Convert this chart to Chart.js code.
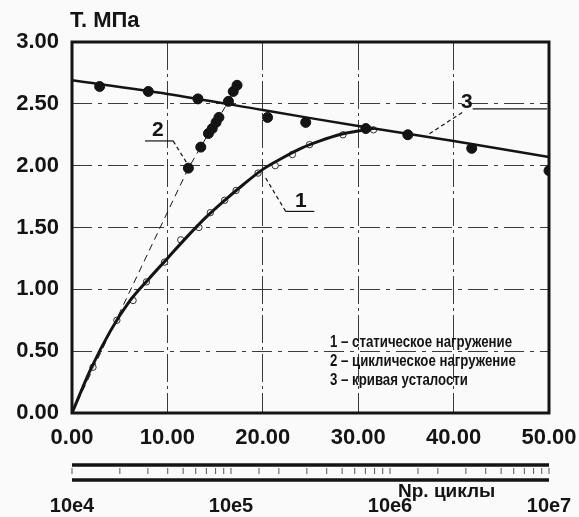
<!DOCTYPE html>
<html>
<head>
<meta charset="utf-8">
<script src="https://cdn.jsdelivr.net/npm/chart.js@4.4.0/dist/chart.umd.min.js"></script>
<style>
  body { margin: 0; background: #fafafa; }
</style>
</head>
<body>
<canvas id="fatigue" width="579" height="517"></canvas>
<script>
// curve 1 - static loading (solid line + open circles)
var staticLineX = [0, 2, 4, 6, 8, 10, 12, 14, 16, 18, 20, 22, 24, 26, 28, 30, 31.6];
var staticLineY = [0, 0.36, 0.66, 0.90, 1.08, 1.25, 1.42, 1.58, 1.72, 1.85, 1.97, 2.06, 2.14, 2.20, 2.25, 2.28, 2.30];
var staticPtsX = [2.2, 4.7, 6.4, 7.8, 9.7, 11.4, 13.3, 14.5, 16.0, 17.2, 19.5, 21.3, 23.1, 24.9, 28.4, 31.6];
var staticPtsY = [0.37, 0.75, 0.91, 1.06, 1.22, 1.40, 1.50, 1.62, 1.72, 1.80, 1.94, 2.00, 2.09, 2.17, 2.25, 2.29];

// curve 2 - cyclic loading (dashed line + filled dots)
var cyclicX = [0, 12.2, 13.5, 14.3, 14.7, 15.1, 15.4, 16.4, 16.9, 17.3];
var cyclicY = [0, 1.98, 2.15, 2.26, 2.30, 2.35, 2.39, 2.52, 2.60, 2.65];

// curve 3 - fatigue curve (solid line + filled dots)
var fatigueLineX = [0, 10, 20, 30, 40, 50];
var fatigueLineY = [2.69, 2.58, 2.45, 2.32, 2.20, 2.07];
var fatiguePtsX = [2.9, 8.0, 13.2, 20.5, 24.5, 30.8, 35.2, 41.9, 50.0];
var fatiguePtsY = [2.64, 2.60, 2.54, 2.39, 2.35, 2.30, 2.25, 2.14, 1.96];

var legendLines = ['1 \u2013 статическое нагружение', '2 \u2013 циклическое нагружение', '3 \u2013 кривая усталости'];

// callout numbers: text anchor, underline, leader end (data units)
var notes = [
    { text: '2', tx: 9.0, ty: 2.29, u0: 7.65, u1: 10.6, uy: 2.20, lx0: 10.6, ly0: 2.20, lx1: 12.05, ly1: 2.02 },
    { text: '1', tx: 24.0, ty: 1.71, u0: 22.4, u1: 25.4, uy: 1.63, lx0: 22.4, ly0: 1.63, lx1: 20.3, ly1: 1.90 },
    { text: '3', tx: 41.4, ty: 2.51, u0: 42.0, u1: 49.8, uy: 2.46, lx0: 40.9, ly0: 2.43, lx1: 37.3, ly1: 2.25 }
];

function pts(xs, ys) {
    return xs.map(function (v, i) { return { x: v, y: ys[i] }; });
}

var ink = '#141414';
var font = '"Liberation Sans", Arial, sans-serif';

var decor = {
    id: 'decor',
    beforeDraw: function (chart) {
        var ctx = chart.ctx;
        ctx.save();
        ctx.fillStyle = '#fafafa';
        ctx.fillRect(0, 0, chart.width, chart.height);
        ctx.restore();
    },
    afterDraw: function (chart) {
        var ctx = chart.ctx;
        var a = chart.chartArea;
        var sx = chart.scales.x, sy = chart.scales.y, lg = chart.scales.xlog;
        ctx.save();

        // frame
        ctx.strokeStyle = ink;
        ctx.lineWidth = 3;
        ctx.strokeRect(a.left, a.top, a.right - a.left, a.bottom - a.top);

        // log bar under the axis
        var b0 = lg.top + 10, b1 = lg.top + 25;
        ctx.lineWidth = 3.5;
        ctx.beginPath();
        ctx.moveTo(a.left, b0); ctx.lineTo(a.right, b0);
        ctx.moveTo(a.left, b1); ctx.lineTo(a.right, b1);
        ctx.stroke();
        ctx.lineWidth = 1;
        ctx.strokeStyle = '#555';
        ctx.beginPath();
        lg.ticks.forEach(function (t) {
            var px = lg.getPixelForValue(t.value);
            ctx.moveTo(px, b0 + 3); ctx.lineTo(px, b0 + 9);
        });
        ctx.stroke();

        // callouts
        ctx.strokeStyle = ink;
        ctx.fillStyle = ink;
        ctx.font = 'bold 21px ' + font;
        ctx.textAlign = 'center';
        ctx.textBaseline = 'middle';
        notes.forEach(function (n) {
            ctx.fillText(n.text, sx.getPixelForValue(n.tx), sy.getPixelForValue(n.ty));
            ctx.lineWidth = 1.2;
            ctx.setLineDash([]);
            ctx.beginPath();
            ctx.moveTo(sx.getPixelForValue(n.u0), sy.getPixelForValue(n.uy));
            ctx.lineTo(sx.getPixelForValue(n.u1), sy.getPixelForValue(n.uy));
            ctx.stroke();
            ctx.setLineDash([4, 3]);
            ctx.beginPath();
            ctx.moveTo(sx.getPixelForValue(n.lx0), sy.getPixelForValue(n.ly0));
            ctx.lineTo(sx.getPixelForValue(n.lx1), sy.getPixelForValue(n.ly1));
            ctx.stroke();
        });
        ctx.setLineDash([]);

        // legend block, condensed by squeezing the text horizontally
        ctx.font = 'bold 17px ' + font;
        var squeeze = 182 / ctx.measureText(legendLines[0]).width;
        ctx.textAlign = 'left';
        legendLines.forEach(function (s, i) {
            ctx.save();
            ctx.translate(330, a.top + 300 + i * 19);
            ctx.scale(squeeze, 1);
            ctx.fillText(s, 0, 0);
            ctx.restore();
        });

        // axis names
        ctx.font = 'bold 22px ' + font;
        ctx.fillText('Т. МПа', 70, 21);
        ctx.font = 'bold 19px ' + font;
        ctx.fillText('Np. циклы', 398, lg.top + 37);
        ctx.restore();
    }
};

var tickFont = { family: font, size: 22, weight: 'bold' };

// fixed axis boxes so the plot area lands where the original frame is
function fitBottom(h) {
    return function (s) {
        s.height = h;
        s.paddingLeft = 0;
        s.paddingRight = 30;
    };
}

var ctx = document.getElementById('fatigue').getContext('2d');
var chart = new Chart(ctx, {
    type: 'scatter',
    data: {
        datasets: [
            {
                label: '3',
                data: pts(fatigueLineX, fatigueLineY),
                showLine: true,
                borderColor: ink,
                borderWidth: 2.5,
                pointRadius: 0,
                tension: 0.3
            },
            {
                label: '3 points',
                data: pts(fatiguePtsX, fatiguePtsY),
                showLine: false,
                pointRadius: 5,
                pointBackgroundColor: ink,
                pointBorderColor: ink
            },
            {
                label: '1',
                data: pts(staticLineX, staticLineY),
                showLine: true,
                borderColor: ink,
                borderWidth: 3,
                pointRadius: 0,
                cubicInterpolationMode: 'monotone'
            },
            {
                label: '1 points',
                data: pts(staticPtsX, staticPtsY),
                showLine: false,
                pointRadius: 3.2,
                pointBorderWidth: 1,
                pointBackgroundColor: 'rgba(250,250,250,0.7)',
                pointBorderColor: '#333'
            },
            {
                label: '2',
                data: pts(cyclicX, cyclicY),
                showLine: true,
                borderColor: ink,
                borderWidth: 1,
                borderDash: [7, 5],
                pointRadius: cyclicX.map(function (v, i) { return i === 0 ? 0 : 5; }),
                pointBackgroundColor: ink,
                pointBorderColor: ink
            }
        ]
    },
    options: {
        responsive: false,
        animation: false,
        devicePixelRatio: 1,
        layout: { padding: { top: 42, right: 0, left: 0, bottom: 0 } },
        plugins: {
            legend: { display: false },
            tooltip: { enabled: false }
        },
        scales: {
            x: {
                type: 'linear',
                min: 0,
                max: 50,
                position: 'bottom',
                afterFit: fitBottom(42),
                ticks: {
                    stepSize: 10,
                    padding: 12,
                    color: ink,
                    font: tickFont,
                    maxRotation: 0,
                    callback: function (v) { return v.toFixed(2); }
                },
                grid: { color: '#3a3a3a', lineWidth: 1, drawTicks: false },
                border: { display: false, dash: [28, 4, 3, 4] }
            },
            xlog: {
                type: 'logarithmic',
                min: 1e4,
                max: 1e7,
                position: 'bottom',
                afterFit: fitBottom(62),
                ticks: {
                    autoSkip: false,
                    maxRotation: 0,
                    padding: 39,
                    color: ink,
                    font: { family: font, size: 20, weight: 'bold' },
                    callback: function (v) {
                        var e = Math.log10(v);
                        return Math.abs(e - Math.round(e)) < 1e-9 ? '10e' + Math.round(e) : '';
                    }
                },
                grid: { display: false, drawTicks: false },
                border: { display: false }
            },
            y: {
                type: 'linear',
                min: 0,
                max: 3,
                afterFit: function (s) { s.width = 72; },
                ticks: {
                    stepSize: 0.5,
                    padding: 13,
                    color: ink,
                    font: tickFont,
                    callback: function (v) { return v.toFixed(2); }
                },
                grid: { color: '#3a3a3a', lineWidth: 1, drawTicks: false },
                border: { display: false, dash: [20, 6, 4, 6] }
            }
        }
    },
    plugins: [decor]
});
</script>
</body>
</html>
